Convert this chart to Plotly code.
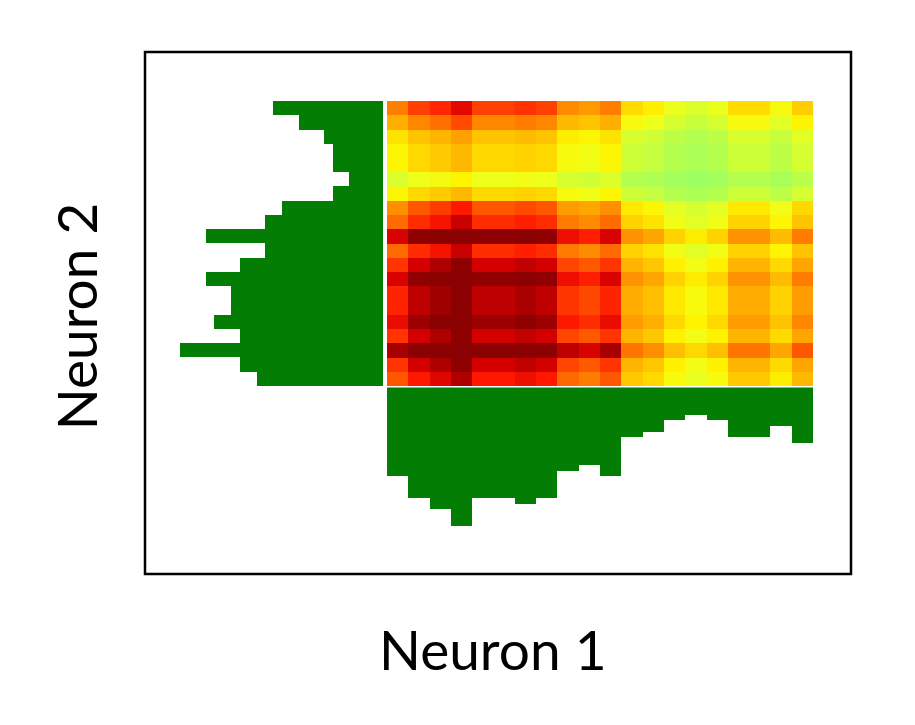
"""
Two-neuron joint activity map: heatmap of the joint counts with the
marginal histograms drawn outside it (left = Neuron 2, bottom = Neuron 1).
"""

import plotly.graph_objects as go

# bin index along each neuron
bins = list(range(1, 21))

# marginal histograms (counts per bin)
neuron1_counts = [16, 20, 22, 25, 20, 20, 21, 20, 15, 14, 16, 9, 8, 6, 5, 6, 9, 9, 7, 10]
neuron2_counts = [13, 10, 7, 6, 6, 4, 6, 12, 14, 21, 14, 17, 21, 18, 18, 20, 17, 24, 17, 15]

# heatmap cells, one list per Neuron 2 bin (top row first)
cell_values = [
    [208, 260, 286, 325, 260, 260, 273, 260, 195, 182, 208, 117, 104, 78, 65, 78, 117, 117, 91, 130],
    [160, 200, 220, 250, 200, 200, 210, 200, 150, 140, 160, 90, 80, 60, 50, 60, 90, 90, 70, 100],
    [112, 140, 154, 175, 140, 140, 147, 140, 105, 98, 112, 63, 56, 42, 35, 42, 63, 63, 49, 70],
    [96, 120, 132, 150, 120, 120, 126, 120, 90, 84, 96, 54, 48, 36, 30, 36, 54, 54, 42, 60],
    [96, 120, 132, 150, 120, 120, 126, 120, 90, 84, 96, 54, 48, 36, 30, 36, 54, 54, 42, 60],
    [64, 80, 88, 100, 80, 80, 84, 80, 60, 56, 64, 36, 32, 24, 20, 24, 36, 36, 28, 40],
    [96, 120, 132, 150, 120, 120, 126, 120, 90, 84, 96, 54, 48, 36, 30, 36, 54, 54, 42, 60],
    [192, 240, 264, 300, 240, 240, 252, 240, 180, 168, 192, 108, 96, 72, 60, 72, 108, 108, 84, 120],
    [224, 280, 308, 350, 280, 280, 294, 280, 210, 196, 224, 126, 112, 84, 70, 84, 126, 126, 98, 140],
    [336, 420, 462, 525, 420, 420, 441, 420, 315, 294, 336, 189, 168, 126, 105, 126, 189, 189, 147, 210],
    [224, 280, 308, 350, 280, 280, 294, 280, 210, 196, 224, 126, 112, 84, 70, 84, 126, 126, 98, 140],
    [272, 340, 374, 425, 340, 340, 357, 340, 255, 238, 272, 153, 136, 102, 85, 102, 153, 153, 119, 170],
    [336, 420, 462, 525, 420, 420, 441, 420, 315, 294, 336, 189, 168, 126, 105, 126, 189, 189, 147, 210],
    [288, 360, 396, 450, 360, 360, 378, 360, 270, 252, 288, 162, 144, 108, 90, 108, 162, 162, 126, 180],
    [288, 360, 396, 450, 360, 360, 378, 360, 270, 252, 288, 162, 144, 108, 90, 108, 162, 162, 126, 180],
    [320, 400, 440, 500, 400, 400, 420, 400, 300, 280, 320, 180, 160, 120, 100, 120, 180, 180, 140, 200],
    [272, 340, 374, 425, 340, 340, 357, 340, 255, 238, 272, 153, 136, 102, 85, 102, 153, 153, 119, 170],
    [384, 480, 528, 600, 480, 480, 504, 480, 360, 336, 384, 216, 192, 144, 120, 144, 216, 216, 168, 240],
    [272, 340, 374, 425, 340, 340, 357, 340, 255, 238, 272, 153, 136, 102, 85, 102, 153, 153, 119, 170],
    [240, 300, 330, 375, 300, 300, 315, 300, 225, 210, 240, 135, 120, 90, 75, 90, 135, 135, 105, 150],
]

# colour ramp: light green (low) -> yellow -> orange -> red -> dark red (high)
Z_MIN, Z_MAX = 20, 430
ramp = [
    (20, "#9eff62"), (50, "#c8ff3c"), (80, "#eeff1a"), (100, "#fff400"),
    (120, "#ffd800"), (150, "#ffb800"), (180, "#ff9c00"), (210, "#ff7c00"),
    (250, "#ff4a00"), (300, "#ff1800"), (340, "#d40000"), (380, "#a80000"),
    (430, "#8b0000"),
]
colorscale = [[(z - Z_MIN) / (Z_MAX - Z_MIN), c] for z, c in ramp]

GREEN = "#037d03"

fig = go.Figure()

fig.add_trace(go.Heatmap(
    x=bins, y=bins, z=cell_values,
    colorscale=colorscale, zmin=Z_MIN, zmax=Z_MAX,
    showscale=False, xaxis="x", yaxis="y",
))

# left marginal (Neuron 2), bars grow to the left
fig.add_trace(go.Bar(
    x=neuron2_counts, y=bins, orientation="h", width=1,
    marker=dict(color=GREEN, line=dict(width=0)),
    xaxis="x2", yaxis="y", showlegend=False,
))

# bottom marginal (Neuron 1), bars grow downward
fig.add_trace(go.Bar(
    x=bins, y=neuron1_counts, width=1,
    marker=dict(color=GREEN, line=dict(width=0)),
    xaxis="x", yaxis="y2", showlegend=False,
))

hidden = dict(visible=False, showgrid=False, zeroline=False)

# page body adds 8px, so the figure is 8px smaller and margins shifted
fig.update_layout(
    width=907, height=717,
    margin=dict(l=137, r=64, t=44, b=151),
    paper_bgcolor="white", plot_bgcolor="white",
    bargap=0,
    xaxis=dict(hidden, domain=[0.3428, 0.9462], range=[0.5, 20.5], anchor="y"),
    yaxis=dict(hidden, domain=[0.3602, 0.9061], range=[20.5, 0.5], anchor="x"),
    xaxis2=dict(hidden, domain=[0.0, 0.3375], range=[28.2, 0], anchor="y"),
    yaxis2=dict(hidden, domain=[0.0, 0.3573], range=[33.5, 0], anchor="x"),
    shapes=[dict(type="rect", xref="paper", yref="paper", x0=0, x1=1, y0=0, y1=1,
                 line=dict(color="black", width=2.5), fillcolor="rgba(0,0,0,0)")],
    annotations=[
        dict(text="Neuron 1", xref="paper", yref="paper", x=0.4929, y=-0.143,
             xanchor="center", yanchor="middle", showarrow=False,
             font=dict(family="Lato", size=55, color="black")),
        dict(text="Neuron 2", xref="paper", yref="paper", x=-0.0977, y=0.494,
             xanchor="center", yanchor="middle", textangle=-90, showarrow=False,
             font=dict(family="Lato", size=55, color="black")),
    ],
)

fig.write_html("out.html")
